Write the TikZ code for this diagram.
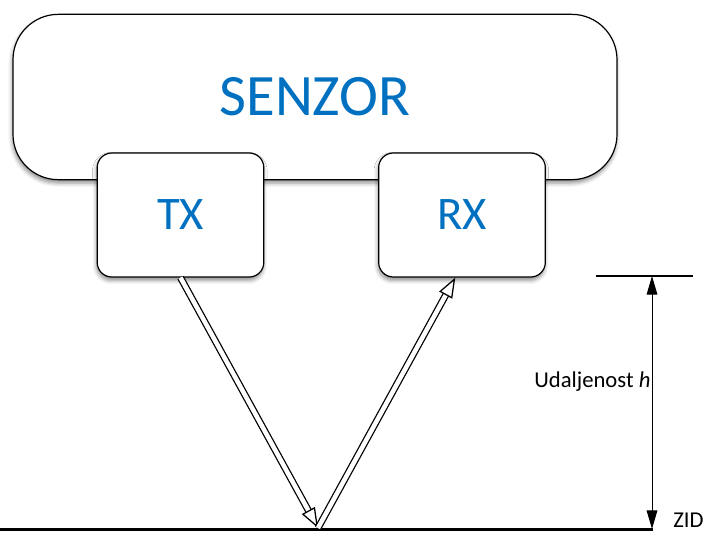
\documentclass[tikz,border=0pt]{standalone}
\usepackage{fontspec}
\setmainfont{Carlito}
\usetikzlibrary{arrows.meta,calc,shadows.blur}
\definecolor{senzorblue}{HTML}{0070C0}

\tikzset{
  senkutija/.style={draw, line width=0.9pt, fill=white, rounded corners=34pt,
    minimum width=453pt, minimum height=124pt, text=senzorblue,
    font=\fontsize{44}{50}\selectfont,
    blur shadow={shadow xshift=-0.5pt, shadow yshift=-2.5pt, shadow blur radius=3pt, shadow opacity=45}},
  modul/.style={draw, line width=0.9pt, fill=white, rounded corners=11pt,
    minimum width=125pt, minimum height=93pt, text=senzorblue,
    font=\fontsize{35}{40}\selectfont,
    blur shadow={shadow xshift=-0.5pt, shadow yshift=-2.5pt, shadow blur radius=3pt, shadow opacity=45}},
  zraka/.style={double, double distance=3.4pt, line width=0.95pt,
    -{Triangle[open, length=15pt, width=11pt]}},
  mjera/.style={line width=0.75pt, {Triangle[length=14pt,width=8pt]}-{Triangle[length=14pt,width=8pt]}},
  oznaka/.style={font=\fontsize{17}{20}\selectfont}
}

\begin{document}
\begin{tikzpicture}[x=0.75pt, y=-0.75pt]
  \useasboundingbox (0,0) rectangle (705,536);

  % senzor s predajnikom i prijemnikom
  \node[senkutija] (senzor) at (315, 97) {SENZOR};
  \node[modul] (tx) at (180.5, 215) {TX};
  \node[modul] (rx) at (462, 215) {RX};

  % zid
  \coordinate (zidL) at (0, 529);
  \coordinate (zidD) at (653, 529);
  \coordinate (odraz) at (318, 528);
  \draw[line width=2.25pt] (zidL) -- (zidD);
  \node[oznaka, anchor=west, inner sep=0pt] (zid) at (673, 520) {ZID};

  % zrake
  \draw[zraka] (tx.south) -- (odraz);
  \draw[zraka] (odraz) -- ($(rx.south west)!0.46!(rx.south east)$);

  % udaljenost
  \coordinate (vrhL) at (596, 276);
  \coordinate (vrhD) at (693, 276);
  \coordinate (dimG) at (652, 276);
  \coordinate (dimD) at (652, 529);
  \draw[line width=1.5pt] (vrhL) -- (vrhD);
  \draw[mjera] (dimG) -- (dimD);
  \node[oznaka, anchor=east, inner sep=1pt] (udalj) at (652, 382) {Udaljenost \textit{h}};
\end{tikzpicture}
\end{document}
